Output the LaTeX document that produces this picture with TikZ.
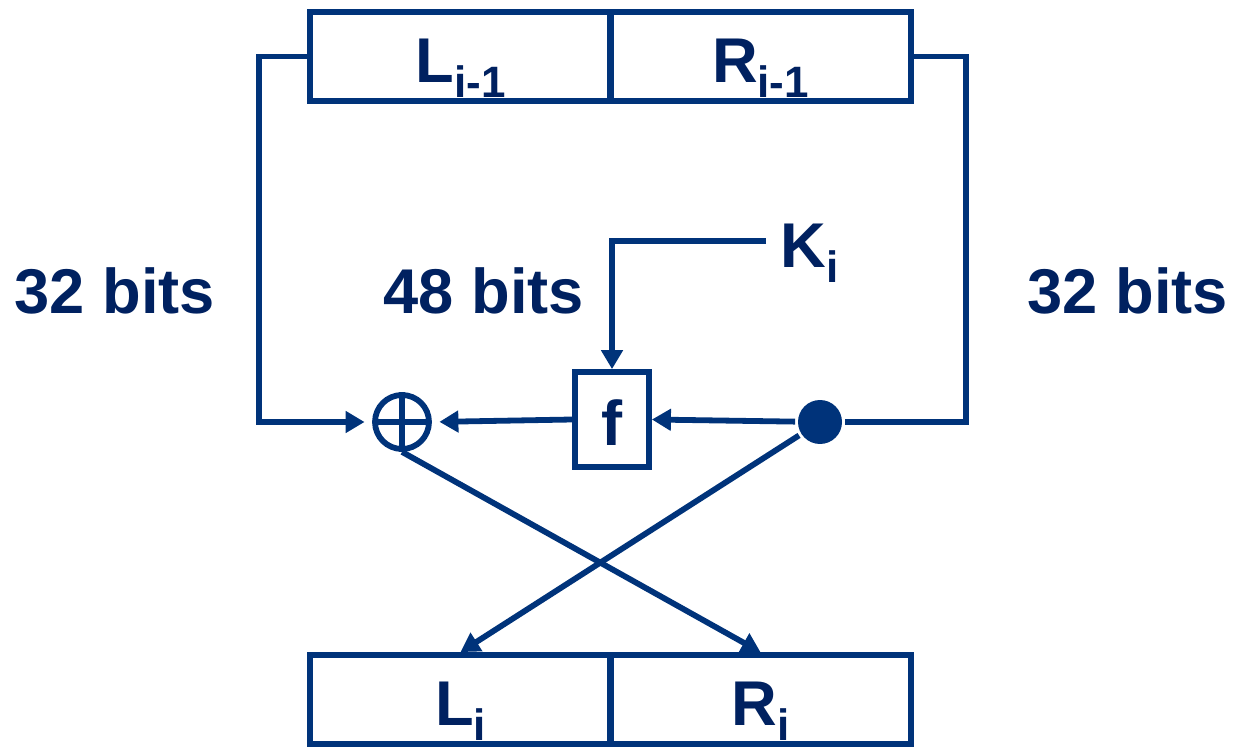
\documentclass[tikz,border=0pt]{standalone}
\usepackage{fontspec}
\setmainfont{Liberation Sans}
\usetikzlibrary{arrows.meta}
\definecolor{navy}{RGB}{0,51,122}
\definecolor{ink}{RGB}{0,33,96}
\newcommand{\idx}[1]{\raisebox{-8.5pt}{\fontsize{25}{25}\selectfont #1}}

\begin{document}
\begin{tikzpicture}[x=0.02cm, y=-0.02cm, line width=3.3pt, color=navy,
    >={Triangle[length=0.38cm,width=0.42cm]},
    half/.style={draw, minimum width=6.02cm, minimum height=1.78cm, inner sep=0pt,
      text=ink, font=\fontsize{36}{40}\selectfont\bfseries, text height=30pt, text depth=0pt},
    fbox/.style={half, minimum width=1.48cm, minimum height=1.9cm},
    xorc/.style={draw, circle, minimum size=1.08cm, inner sep=0pt},
    tapdot/.style={fill, circle, minimum size=0.88cm, inner sep=0pt},
    lbl/.style={anchor=base, inner sep=0pt, text=ink, font=\fontsize{36}{40}\selectfont\bfseries}]
  \useasboundingbox (0,0) rectangle (1236,749);
  % round input and output halves
  \node[half] (Lprev) at (460.5,56.5)  {L\idx{i-1}};
  \node[half] (Rprev) at (760.5,56.5)  {R\idx{i-1}};
  \node[half] (Li)    at (460.5,699.5) {L\idx{i}};
  \node[half] (Ri)    at (760.5,699.5) {R\idx{i}};
  % round function
  \node[xorc]   (xor) at (402,422) {};
  \node[tapdot] (tap) at (820,422) {};
  \node[fbox]   (f)   at (612,419.5) {f};
  \node[lbl] (bitsL) at (115,314)  {32 bits};
  \node[lbl] (bitsK) at (484,314)  {48 bits};
  \node[lbl] (bitsR) at (1128,314) {32 bits};
  \node[lbl, anchor=base west] (Ki) at (778,268) {K\idx{i}};
  \coordinate (kend) at (766,241);

  \draw[shorten <=0.1cm, shorten >=0.1cm] (xor.north) -- (xor.south) (xor.west) -- (xor.east);
  \draw[->, shorten >=0.15cm] (Lprev.west) -- ++(-48,0) |- (xor.west);
  \draw (Rprev.east) -- ++(52,0) |- (tap.east);
  \draw[->] (tap) -- (f.east);
  \draw[->, shorten >=0.15cm] (f.west) -- (xor.east);
  \draw[->] (kend) -| (f.north);
  \draw[->] (xor.south) -- (Ri.north);
  \draw[->] (tap) -- (Li.north);
\end{tikzpicture}
\end{document}
